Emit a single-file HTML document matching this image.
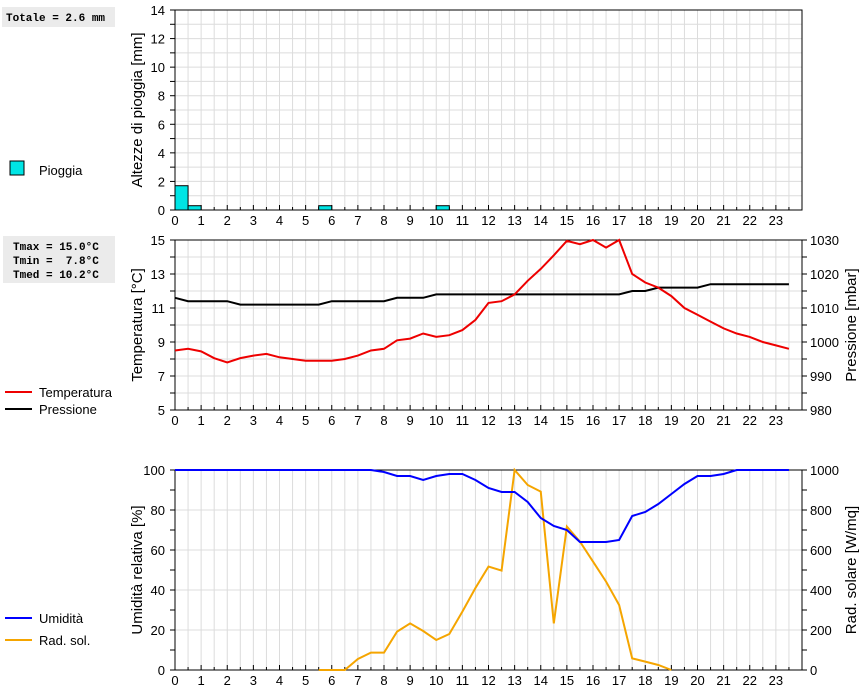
<!DOCTYPE html>
<html><head><meta charset="utf-8"><style>
body{margin:0;background:#fff;}
svg{display:block;font-family:"Liberation Sans",sans-serif;}
.mono{font-family:"Liberation Mono",monospace;font-weight:bold;font-size:11px;}
</style></head><body>
<svg id="c" width="860" height="690" xmlns="http://www.w3.org/2000/svg">
<rect x="2" y="7" width="113" height="20" fill="#ebebeb"/>
<text x="6" y="21" class="mono">Totale = 2.6 mm</text>
<rect x="3" y="236" width="112" height="47" fill="#ebebeb"/>
<text x="13" y="250" class="mono" xml:space="preserve">Tmax = 15.0°C</text>
<text x="13" y="264" class="mono" xml:space="preserve">Tmin =  7.8°C</text>
<text x="13" y="278" class="mono" xml:space="preserve">Tmed = 10.2°C</text>
<rect x="10" y="161" width="14" height="14" fill="#00e5e5" stroke="#000"/>
<text x="39" y="175" font-size="13">Pioggia</text>
<line x1="5" y1="392" x2="32" y2="392" stroke="#e00" stroke-width="2"/>
<text x="39" y="397" font-size="13">Temperatura</text>
<line x1="5" y1="409" x2="32" y2="409" stroke="#000" stroke-width="2"/>
<text x="39" y="414" font-size="13">Pressione</text>
<line x1="5" y1="618" x2="32" y2="618" stroke="#00f" stroke-width="2"/>
<text x="39" y="623" font-size="13">Umidità</text>
<line x1="5" y1="640" x2="32" y2="640" stroke="#f5a500" stroke-width="2"/>
<text x="39" y="645" font-size="13">Rad. sol.</text>
</svg>
<script>
const hours=[0,0.5,1,1.5,2,2.5,3,3.5,4,4.5,5,5.5,6,6.5,7,7.5,8,8.5,9,9.5,10,10.5,11,11.5,12,12.5,13,13.5,14,14.5,15,15.5,16,16.5,17,17.5,18,18.5,19,19.5,20,20.5,21,21.5,22,22.5,23,23.5];
const rainStart=[0,0.5,5.5,10];
const rainMm=[1.7,0.3,0.3,0.3];
const temp=[8.5,8.6,8.45,8.05,7.8,8.05,8.2,8.3,8.1,8.0,7.9,7.9,7.9,8.0,8.2,8.5,8.6,9.1,9.2,9.5,9.3,9.4,9.7,10.3,11.3,11.4,11.8,12.6,13.3,14.1,14.95,14.75,15.0,14.55,15.0,13.0,12.5,12.2,11.7,11.0,10.6,10.2,9.8,9.5,9.3,9.0,8.8,8.6];
const press=[1013,1012,1012,1012,1012,1011,1011,1011,1011,1011,1011,1011,1012,1012,1012,1012,1012,1013,1013,1013,1014,1014,1014,1014,1014,1014,1014,1014,1014,1014,1014,1014,1014,1014,1014,1015,1015,1016,1016,1016,1016,1017,1017,1017,1017,1017,1017,1017];
const hum=[100,100,100,100,100,100,100,100,100,100,100,100,100,100,100,100,99,97,97,95,97,98,98,95,91,89,89,84,76,72,70,64,64,64,65,77,79,83,88,93,97,97,98,100,100,100,100,100];
const solar=[null,null,null,null,null,null,null,null,null,null,null,0,0,0,55,87,87,192,233,195,150,180,292,410,517,497,1050,925,892,233,717,642,542,442,325,58,42,25,0,null,null,null,null,null,null,null,null,null];
const xTicks=[0,1,2,3,4,5,6,7,8,9,10,11,12,13,14,15,16,17,18,19,20,21,22,23];
const rainTicks=[0,2,4,6,8,10,12,14];
const tempTicks=[5,7,9,11,13,15];
const pressTicks=[980,990,1000,1010,1020,1030];
const humTicks=[0,20,40,60,80,100];
const solTicks=[0,200,400,600,800,1000];

const svg=document.getElementById('c'),NS='http://www.w3.org/2000/svg';
const X0=175,X1=802;
const x=h=>X0+h*(X1-X0)/24;
function el(t,a,p){const e=document.createElementNS(NS,t);for(const k in a)e.setAttribute(k,a[k]);(p||svg).appendChild(e);return e;}
function txt(s,a){const e=el('text',a);e.textContent=s;return e;}
function panel(top,bot,lo,hi,grid,name){
  const y=v=>bot-(v-lo)/(hi-lo)*(bot-top);
  const g=el('g',{});
  for(let h=0.5;h<24;h+=0.5)el('line',{x1:x(h),x2:x(h),y1:top,y2:bot,stroke:'#dcdcdc'},g);
  for(let v=lo+grid;v<hi;v+=grid)el('line',{x1:X0,x2:X1,y1:y(v),y2:y(v),stroke:'#dcdcdc'},g);
  const f=el('rect',{x:X0,y:top,width:X1-X0,height:bot-top,fill:'none',stroke:'#000'});
  
  for(let h=0;h<24;h+=0.5)el('line',{x1:x(h),x2:x(h),y1:bot,y2:bot-(h%1?3:5),stroke:'#000'});
  xTicks.forEach(h=>{const t=txt(h,{x:x(h),y:bot+15,'font-size':13,'text-anchor':'middle'});
    });
  return y;
}
function yLabels(ticks,y,xp,anchor,minor,lo,hi,side){
  ticks.forEach(v=>{const t=txt(v,{x:xp,y:y(v)+5,'font-size':13,'text-anchor':anchor});
    });
  const ax=side=='l'?X0:X1,d=side=='l'?-5:5;
  for(let v=lo;v<=hi;v+=minor)el('line',{x1:ax,x2:ax+d,y1:y(v),y2:y(v),stroke:'#000'});
}
function title(s,xp,yp,name){const t=txt(s,{x:xp,y:yp,'font-size':15,'text-anchor':'middle',transform:`rotate(-90 ${xp} ${yp})`});
  }
function line(vals,y,color,name,top){
  const pts=[];
  hours.forEach((h,i)=>{if(vals[i]!==null)pts.push(x(h)+','+Math.max(top,y(vals[i])));});
  const p=el('polyline',{points:pts.join(' '),fill:'none',stroke:color,'stroke-width':2});
  
}
const yr=panel(10,210,0,14,1,'rain');
yLabels(rainTicks,yr,165,'end',1,0,14,'l');
title('Altezze di pioggia [mm]',142,110,'rain-y-title');
rainStart.forEach((h,i)=>{const b=el('rect',{x:x(h),y:yr(rainMm[i]),width:x(h+0.5)-x(h),height:210-yr(rainMm[i]),fill:'#00e5e5',stroke:'#000'});
  });
const yt=panel(240,410,5,15,1,'temp');
const yp=v=>410-(v-980)/50*170;
yLabels(tempTicks,yt,165,'end',1,5,15,'l');
yLabels(pressTicks,yp,810,'start',5,980,1030,'r');
title('Temperatura [°C]',142,325,'temp-y-title');
title('Pressione [mbar]',856,325,'press-y-title');
line(press,yp,'#000','pressure-line',240);
line(temp,yt,'#e00','temperature-line',240);
const yh=panel(470,670,0,100,20,'hum');
const ys=v=>670-v/1000*200;
yLabels(humTicks,yh,165,'end',10,0,100,'l');
yLabels(solTicks,ys,810,'start',100,0,1000,'r');
title('Umidità relativa [%]',142,570,'hum-y-title');
title('Rad. solare [W/mq]',856,570,'sol-y-title');
line(solar,ys,'#f5a500','solar-line',470);
line(hum,yh,'#00f','humidity-line',470);
</script>
</body></html>
